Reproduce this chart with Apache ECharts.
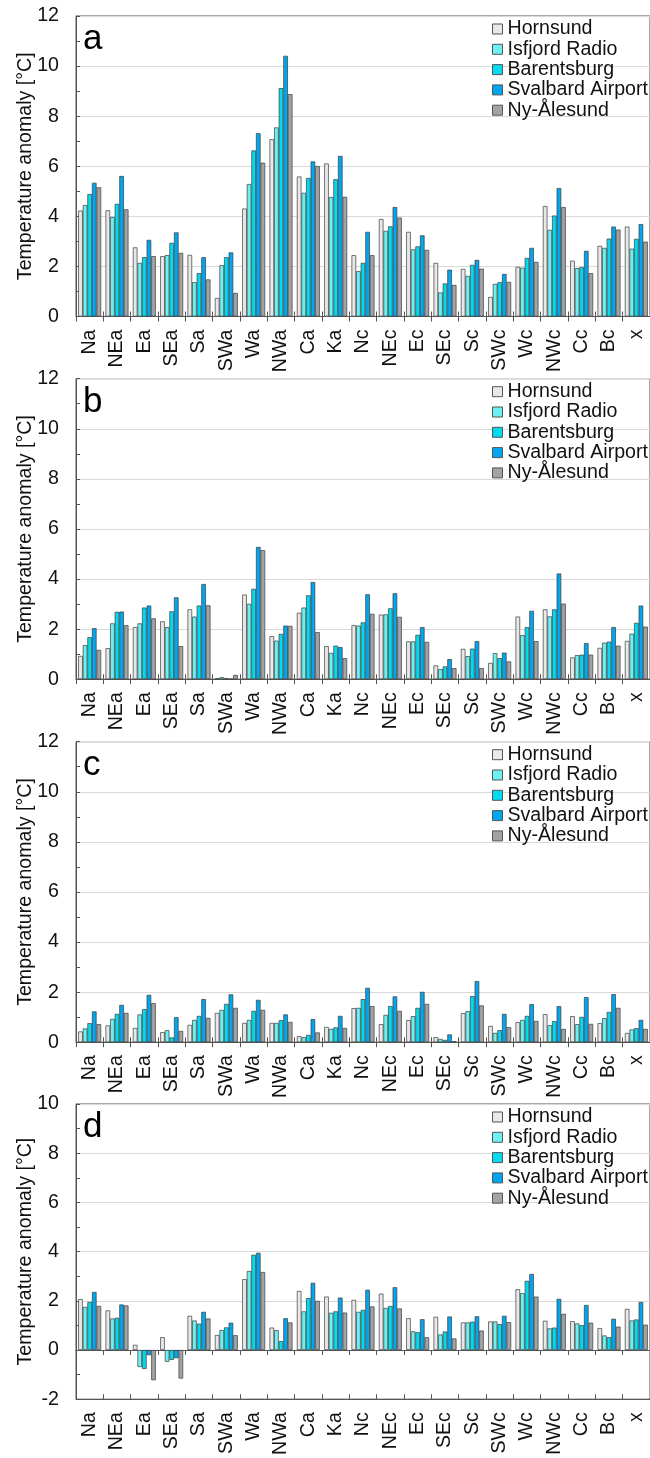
<!DOCTYPE html>
<html>
<head>
<meta charset="utf-8">
<script src="https://cdn.jsdelivr.net/npm/echarts@6/dist/echarts.min.js"></script>
<style>
  html, body { margin: 0; padding: 0; background: #fff; }
  #chart { width: 650px; height: 1458px; }
</style>
</head>
<body>
<div id="chart"></div>
<script>
// Circulation types (categories along the x axis)
const categories = ['Na','NEa','Ea','SEa','Sa','SWa','Wa','NWa','Ca','Ka','Nc','NEc','Ec','SEc','Sc','SWc','Wc','NWc','Cc','Bc','x'];
const stations = ['Hornsund', 'Isfjord Radio', 'Barentsburg', 'Svalbard Airport', 'Ny-Ålesund'];
const panelLetters = ['a', 'b', 'c', 'd'];

// Panel a
const hornsundA    = [4.23,4.24,2.76,2.41,2.46,0.74,4.31,7.08,5.59,6.11,2.45,3.89,3.38,2.14,1.90,0.78,1.98,4.41,2.23,2.82,3.59];
const isfjordA     = [4.45,3.97,2.14,2.45,1.37,2.05,5.29,7.55,4.94,4.77,1.81,3.42,2.68,0.96,1.62,1.30,1.95,3.46,1.93,2.74,2.71];
const barentsburgA = [4.89,4.50,2.37,2.94,1.73,2.37,6.63,9.12,5.53,5.48,2.14,3.60,2.80,1.32,2.06,1.37,2.34,4.03,1.97,3.11,3.10];
const airportA     = [5.34,5.61,3.06,3.36,2.37,2.56,7.32,10.41,6.19,6.41,3.38,4.37,3.24,1.87,2.26,1.70,2.74,5.13,2.62,3.59,3.69];
const nyAlesundA   = [5.16,4.28,2.41,2.54,1.48,0.94,6.14,8.88,6.01,4.78,2.45,3.95,2.66,1.26,1.91,1.38,2.18,4.37,1.73,3.47,2.99];

// Panel b
const hornsundB    = [0.93,1.24,2.08,2.31,2.79,0.04,3.38,1.72,2.65,1.32,2.16,2.58,1.51,0.55,1.21,0.65,2.50,2.79,0.87,1.25,1.53];
const isfjordB     = [1.36,2.23,2.23,2.08,2.50,0.08,3.01,1.54,2.86,1.05,2.14,2.59,1.51,0.40,0.92,1.04,1.76,2.51,0.96,1.46,1.82];
const barentsburgB = [1.68,2.69,2.86,2.71,2.94,0.04,3.61,1.81,3.35,1.34,2.27,2.83,1.77,0.51,1.22,0.84,2.08,2.79,0.98,1.50,2.25];
const airportB     = [2.04,2.70,2.94,3.27,3.80,0.01,5.28,2.14,3.88,1.28,3.39,3.43,2.08,0.80,1.52,1.06,2.73,4.22,1.44,2.08,2.94];
const nyAlesundB   = [1.17,2.16,2.43,1.32,2.95,0.17,5.15,2.13,1.88,0.84,2.61,2.49,1.49,0.44,0.44,0.71,1.52,3.02,0.98,1.34,2.10];

// Panel c
const hornsundC    = [0.43,0.67,0.57,0.40,0.69,1.17,0.77,0.77,0.24,0.61,1.36,0.72,0.88,0.20,1.16,0.65,0.80,1.12,1.04,0.76,0.37];
const isfjordC     = [0.55,0.93,1.11,0.48,0.89,1.29,0.89,0.77,0.20,0.53,1.37,1.09,1.04,0.13,1.24,0.37,0.89,0.68,0.72,0.96,0.51];
const barentsburgC = [0.76,1.13,1.32,0.19,1.05,1.53,1.25,0.88,0.29,0.59,1.72,1.44,1.37,0.09,1.84,0.48,1.05,0.84,1.01,1.21,0.56];
const airportC     = [1.23,1.49,1.89,1.00,1.72,1.91,1.69,1.11,0.92,1.05,2.17,1.83,2.01,0.31,2.44,1.13,1.52,1.44,1.80,1.92,0.89];
const nyAlesundC   = [0.72,1.17,1.56,0.45,0.97,1.37,1.29,0.81,0.39,0.57,1.44,1.25,1.53,0.04,1.47,0.60,0.85,0.53,0.73,1.37,0.53];

// Panel d
const hornsundD    = [2.07,1.61,0.21,0.52,1.39,0.61,2.88,0.91,2.40,2.17,2.04,2.29,1.29,1.35,1.12,1.16,2.47,1.19,1.17,0.89,1.67];
const isfjordD     = [1.75,1.28,-0.69,-0.48,1.20,0.81,3.21,0.81,1.57,1.51,1.55,1.71,0.76,0.63,1.12,1.16,2.31,0.88,1.08,0.59,1.20];
const barentsburgD = [1.95,1.31,-0.77,-0.40,1.07,0.92,3.87,0.36,2.11,1.57,1.63,1.79,0.72,0.75,1.15,1.05,2.81,0.91,1.01,0.52,1.24];
const airportD     = [2.36,1.85,-0.21,-0.33,1.55,1.11,3.95,1.29,2.73,2.13,2.45,2.55,1.25,1.36,1.37,1.39,3.09,2.08,1.83,1.27,1.95];
const nyAlesundD   = [1.79,1.81,-1.23,-1.16,1.28,0.60,3.17,1.12,2.00,1.52,1.77,1.69,0.52,0.47,0.79,1.13,2.17,1.47,1.11,0.95,1.03];

// Y-axis ranges per panel
const yMins = [0, 0, 0, -2];
const yMaxs = [12, 12, 12, 10];

const panelData = [
  [hornsundA, isfjordA, barentsburgA, airportA, nyAlesundA],
  [hornsundB, isfjordB, barentsburgB, airportB, nyAlesundB],
  [hornsundC, isfjordC, barentsburgC, airportC, nyAlesundC],
  [hornsundD, isfjordD, barentsburgD, airportD, nyAlesundD]
];

const stationColors = ['#e8e8e8', '#6cf0f2', '#00dbf0', '#00a6ef', '#a3a3a3'];
const FONT = '"Liberation Sans", Arial, sans-serif';
const FONT_SIZE = 19.6;
const AXIS_COLOR = '#555';
const TEXT_COLOR = '#111';

const gridTops = [16, 378.7, 741.7, 1104];
const gridHeight = 300.5;
const gridLeft = 76;
const gridWidth = 575;

const grids = [], xAxes = [], yAxes = [], series = [], legends = [], graphics = [];

gridTops.forEach((top, p) => {
  grids.push({
    left: gridLeft, top: top, width: gridWidth, height: gridHeight,
    show: true, borderColor: AXIS_COLOR, borderWidth: 1, backgroundColor: 'transparent'
  });

  yAxes.push({
    gridIndex: p, type: 'value', min: yMins[p], max: yMaxs[p], interval: 2,
    axisLine: { show: true, lineStyle: { color: AXIS_COLOR, width: 1 } },
    axisTick: { show: true, inside: true, length: 4, lineStyle: { color: AXIS_COLOR } },
    minorTick: { show: true, splitNumber: 2, length: 4, lineStyle: { color: AXIS_COLOR } },
    splitLine: { show: true, lineStyle: { color: '#d9d9d9', width: 1 } },
    axisLabel: { fontSize: FONT_SIZE, color: TEXT_COLOR, fontFamily: FONT, margin: 17 },
    name: 'Temperature anomaly [°C]', nameLocation: 'middle', nameGap: 40,
    nameMoveOverlap: false,
    nameTextStyle: { fontSize: FONT_SIZE, color: TEXT_COLOR, fontFamily: FONT }
  });

  const labelAxisIndex = xAxes.length;
  const isLast = p === 3;
  // Category labels (bottom of the frame) with outward boundary ticks
  xAxes.push({
    gridIndex: p, type: 'category', data: categories, position: 'bottom',
    axisLine: { show: true, onZero: false, lineStyle: { color: AXIS_COLOR, width: 1 } },
    axisTick: { show: !isLast, interval: 0, length: 5, lineStyle: { color: AXIS_COLOR } },
    axisLabel: { interval: 0, rotate: 90, fontSize: FONT_SIZE, color: TEXT_COLOR, fontFamily: FONT, margin: 13 },
    splitLine: { show: false }
  });
  if (isLast) {
    // Zero line with outward ticks
    xAxes.push({
      gridIndex: p, type: 'category', data: categories, position: 'bottom',
      axisLine: { show: true, onZero: true, lineStyle: { color: AXIS_COLOR, width: 1 } },
      axisTick: { show: true, interval: 0, length: 5, lineStyle: { color: AXIS_COLOR } },
      axisLabel: { show: false }, splitLine: { show: false }
    });
  }
  // Inward half of the boundary ticks on the zero line
  xAxes.push({
    gridIndex: p, type: 'category', data: categories, position: 'bottom',
    axisLine: { show: false, onZero: true },
    axisTick: { show: true, inside: true, interval: 0, length: 5, lineStyle: { color: AXIS_COLOR } },
    axisLabel: { show: false }, splitLine: { show: false }
  });

  stations.forEach((name, s) => {
    series.push({
      type: 'bar', name: name, xAxisIndex: labelAxisIndex, yAxisIndex: p,
      data: panelData[p][s],
      barGap: '0%', barCategoryGap: '16%',
      itemStyle: { color: stationColors[s], borderColor: '#3c3c3c', borderWidth: 0.7 },
      emphasis: { disabled: true }
    });
  });

  legends.push({
    orient: 'vertical', left: 492, top: top + 3, padding: 0,
    itemWidth: 10, itemHeight: 10, itemGap: 0.3, itemTextGap: 5,
    icon: 'rect', selectedMode: false,
    itemStyle: { borderColor: '#555', borderWidth: 1 },
    textStyle: { fontSize: FONT_SIZE, lineHeight: 20, color: TEXT_COLOR, fontFamily: FONT },
    data: stations
  });

  graphics.push({
    type: 'text', x: 83, y: top + 23.5,
    style: { text: panelLetters[p], fontSize: 35, fill: '#000', fontFamily: FONT, verticalAlign: 'middle' }
  });
});

const chart = echarts.init(document.getElementById('chart'), null, { renderer: 'canvas' });
chart.setOption({
  animation: false,
  backgroundColor: '#fff',
  grid: grids,
  xAxis: xAxes,
  yAxis: yAxes,
  legend: legends,
  series: series,
  graphic: graphics
});
</script>
</body>
</html>
